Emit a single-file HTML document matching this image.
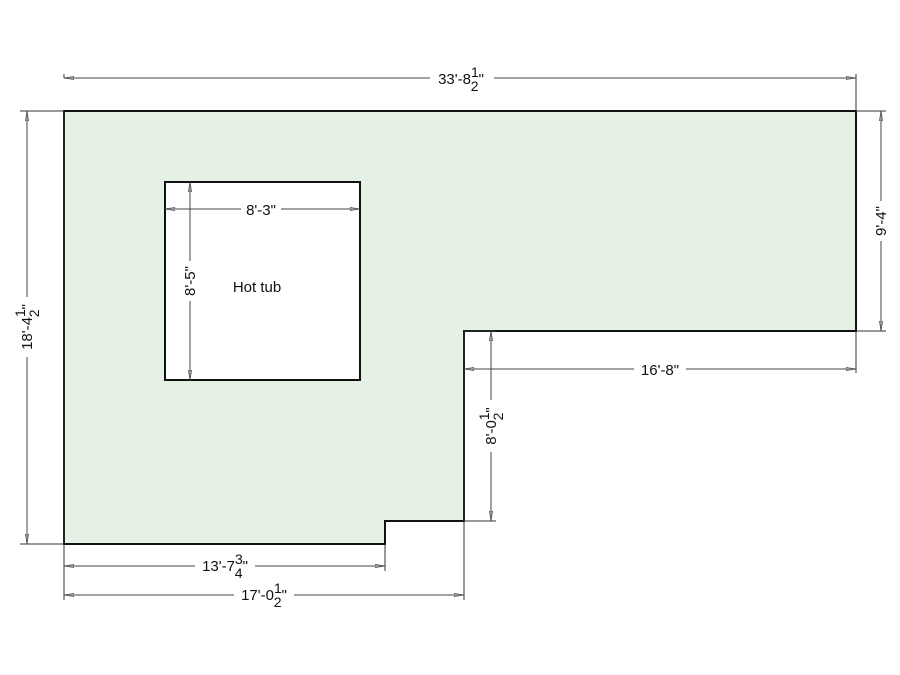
<!DOCTYPE html>
<html><head><style>
html,body{margin:0;padding:0;background:#fff;}
svg{display:block;font-family:"Liberation Sans",sans-serif;}
</style></head><body>
<svg width="900" height="675" viewBox="0 0 900 675" xmlns="http://www.w3.org/2000/svg">
<defs>
<marker id="a" viewBox="0 0 10 6" refX="10" refY="3" markerWidth="10" markerHeight="6" orient="auto-start-reverse" markerUnits="userSpaceOnUse">
<path d="M0,1.5 L10,3 L0,4.5 Z" fill="#aaa" stroke="#444" stroke-width="0.8"/>
</marker>
</defs>
<polygon points="64,111 856,111 856,331 464,331 464,521 385,521 385,544 64,544" fill="#e4f1e4" stroke="#111" stroke-width="2"/>
<rect x="165" y="182" width="195" height="198" fill="#fff" stroke="#111" stroke-width="2"/>
<text x="257" y="292" font-size="15" text-anchor="middle" fill="#111">Hot tub</text>

<g stroke="#333" stroke-width="1" fill="none">
<line x1="64" y1="111" x2="64" y2="600"/>
<line x1="856" y1="111" x2="856" y2="74"/>
<line x1="64" y1="111" x2="20" y2="111"/>
<line x1="64" y1="544" x2="20" y2="544"/>
<line x1="856" y1="111" x2="886" y2="111"/>
<line x1="856" y1="331" x2="886" y2="331"/>
<line x1="856" y1="331" x2="856" y2="373"/>
<line x1="464" y1="331" x2="496" y2="331"/>
<line x1="464" y1="521" x2="496" y2="521"/>
<line x1="464" y1="331" x2="464" y2="600"/>
<line x1="385" y1="544" x2="385" y2="571"/>
<line x1="64" y1="78" x2="64" y2="74"/>
</g>
<g stroke="#444" stroke-width="1" fill="none" marker-start="url(#a)" marker-end="url(#a)">
<line x1="64" y1="78" x2="856" y2="78"/>
<line x1="27" y1="111" x2="27" y2="544"/>
<line x1="881" y1="111" x2="881" y2="331"/>
<line x1="464" y1="369" x2="856" y2="369"/>
<line x1="491" y1="331" x2="491" y2="521"/>
<line x1="64" y1="566" x2="385" y2="566"/>
<line x1="64" y1="595" x2="464" y2="595"/>
<line x1="165" y1="209" x2="360" y2="209"/>
<line x1="190" y1="182" x2="190" y2="380"/>
</g>

<g font-size="15" fill="#111" text-anchor="middle">
<rect x="430" y="66" width="64" height="28" fill="#fff"/>
<text x="461" y="84">33'-8<tspan font-size="14" dy="-7">1</tspan><tspan font-size="14" dx="-8" dy="14">2</tspan><tspan dy="-7">"</tspan></text>
<g transform="translate(27,327) rotate(-90)">
<rect x="-30" y="-13" width="60" height="28" fill="#fff"/>
<text x="0" y="5">18'-4<tspan font-size="14" dy="-7">1</tspan><tspan font-size="14" dx="-8" dy="14">2</tspan><tspan dy="-7">"</tspan></text>
</g>
<g transform="translate(881,221) rotate(-90)">
<rect x="-20" y="-9" width="40" height="18" fill="#fff"/>
<text x="0" y="5">9'-4"</text>
</g>
<rect x="634" y="360" width="52" height="18" fill="#fff"/>
<text x="660" y="375">16'-8"</text>
<g transform="translate(491,426) rotate(-90)">
<rect x="-26" y="-13" width="52" height="28" fill="#fff"/>
<text x="0" y="5">8'-0<tspan font-size="14" dy="-7">1</tspan><tspan font-size="14" dx="-8" dy="14">2</tspan><tspan dy="-7">"</tspan></text>
</g>
<rect x="195" y="554" width="60" height="28" fill="#fff"/>
<text x="225" y="571">13'-7<tspan font-size="14" dy="-7">3</tspan><tspan font-size="14" dx="-8" dy="14">4</tspan><tspan dy="-7">"</tspan></text>
<rect x="234" y="583" width="60" height="28" fill="#fff"/>
<text x="264" y="600">17'-0<tspan font-size="14" dy="-7">1</tspan><tspan font-size="14" dx="-8" dy="14">2</tspan><tspan dy="-7">"</tspan></text>
<rect x="241" y="200" width="40" height="18" fill="#fff"/>
<text x="261" y="215">8'-3"</text>
<g transform="translate(190,281) rotate(-90)">
<rect x="-20" y="-9" width="40" height="18" fill="#fff"/>
<text x="0" y="5">8'-5"</text>
</g>
</g>
</svg>
</body></html>
